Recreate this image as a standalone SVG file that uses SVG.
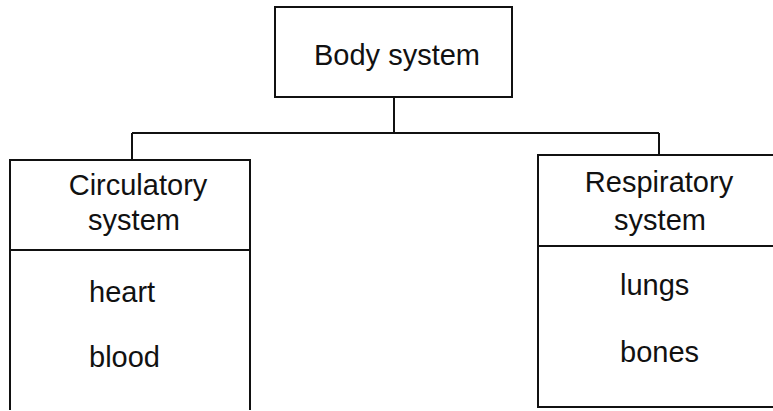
<svg xmlns="http://www.w3.org/2000/svg" width="773" height="411" viewBox="0 0 773 411">
<style>
.box{fill:#fff;stroke:#111;stroke-width:2}
.ln{fill:none;stroke:#111;stroke-width:2}
text{font-family:"Liberation Sans",Arial,sans-serif;font-size:29px;fill:#111}
.c{text-anchor:middle}
</style>
<rect width="773" height="411" fill="#fff"/>
<g id="connectors">
<path class="ln" d="M394 97V133M132 133H659M132 133V160M659 133V155"/>
</g>
<g id="body">
<rect class="box" x="275" y="7" width="237" height="90"/>
<text class="c" x="397" y="65">Body system</text>
</g>
<g id="circulatory">
<path class="box" d="M10 410V160H250V410"/>
<line class="ln" x1="10" y1="250" x2="250" y2="250"/>
<text class="c" x="138" y="195">Circulatory</text>
<text class="c" x="134" y="230">system</text>
<text x="89" y="302">heart</text>
<text x="89" y="367">blood</text>
</g>
<g id="respiratory">
<path class="box" d="M780 155H538V407H780"/>
<line class="ln" x1="538" y1="246" x2="773" y2="246"/>
<text class="c" x="659" y="192">Respiratory</text>
<text class="c" x="660" y="230">system</text>
<text x="620" y="295">lungs</text>
<text x="620" y="362">bones</text>
</g>
</svg>
